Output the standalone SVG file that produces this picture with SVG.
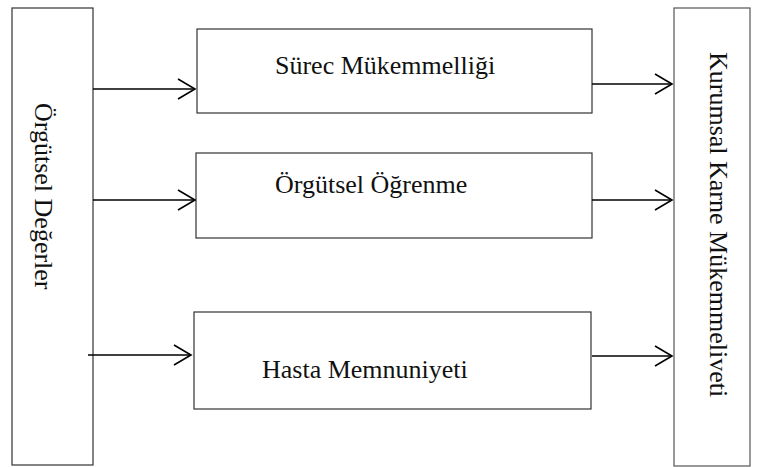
<svg xmlns="http://www.w3.org/2000/svg" width="759" height="467" viewBox="0 0 759 467">
<style>
.box{fill:#fff;stroke:#333;stroke-width:1.2}
.lbl{font-family:"Liberation Serif","Times New Roman",serif;font-size:26px;fill:#111}
.con{stroke:#000;stroke-width:1.6;fill:none}
</style>
<defs>
<marker id="arr" markerUnits="userSpaceOnUse" markerWidth="20" markerHeight="24" viewBox="-1 -1 20 24" refX="17" refY="10" orient="auto">
<path d="M0,0 L17,10 L0,20" fill="none" stroke="#000" stroke-width="1.6"/>
</marker>
</defs>
<rect width="759" height="467" fill="#fff"/>
<g id="orgutsel-degerler">
<rect class="box" x="12" y="8" width="81" height="457"/>
<text class="lbl" transform="translate(35,103) rotate(90)">Örgütsel Değerler</text>
</g>
<g id="kurumsal-karne">
<rect class="box" x="674" y="8" width="76" height="458" style="stroke:#555"/>
<text class="lbl" transform="translate(710,52) rotate(90)">Kurumsal Karne Mükemmeliveti</text>
</g>
<g id="surec">
<rect class="box" x="197" y="29" width="395" height="84"/>
<text class="lbl" x="275" y="74">Sürec Mükemmelliği</text>
</g>
<g id="ogrenme">
<rect class="box" x="196" y="153" width="396" height="85"/>
<text class="lbl" x="275" y="193">Örgütsel Öğrenme</text>
</g>
<g id="hasta">
<rect class="box" x="194" y="312" width="397" height="97"/>
<text class="lbl" x="262" y="378">Hasta Memnuniyeti</text>
</g>
<g id="connectors">
<line class="con" x1="93" y1="89" x2="195" y2="89" marker-end="url(#arr)"/>
<line class="con" x1="93" y1="200" x2="195" y2="200" marker-end="url(#arr)"/>
<line class="con" x1="88" y1="355" x2="191" y2="355" marker-end="url(#arr)"/>
<line class="con" x1="592" y1="84" x2="672" y2="84" marker-end="url(#arr)"/>
<line class="con" x1="592" y1="200" x2="672" y2="200" marker-end="url(#arr)"/>
<line class="con" x1="592" y1="356" x2="672" y2="356" marker-end="url(#arr)"/>
</g>
</svg>
